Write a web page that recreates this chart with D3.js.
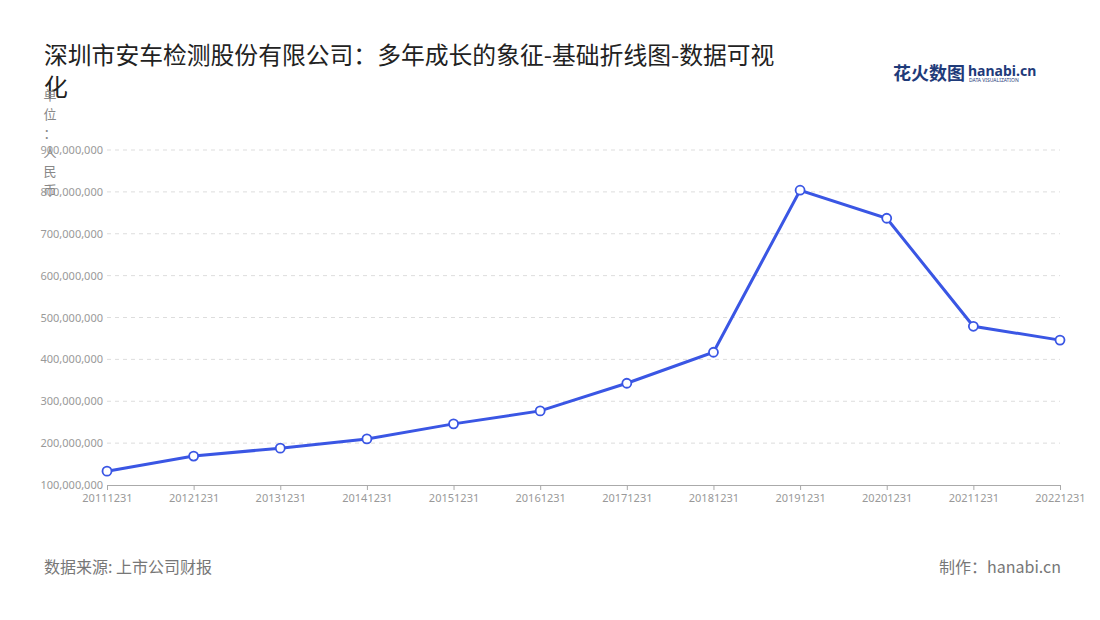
<!DOCTYPE html>
<html><head><meta charset="utf-8">
<script src="https://cdn.jsdelivr.net/npm/d3@7/dist/d3.min.js"></script>
<style>body{margin:0;background:#fff;font-family:"Noto Sans CJK SC","Noto Sans",sans-serif}</style>
</head><body><svg id="c" width="1100" height="620"></svg>
<script>
const categories=["20111231","20121231","20131231","20141231","20151231","20161231","20171231","20181231","20191231","20201231","20211231","20221231"];
const values=[133000000,169000000,188000000,210000000,246000000,277000000,343000000,417000000,804000000,737000000,479000000,446000000];
const yTicks=[100000000,200000000,300000000,400000000,500000000,600000000,700000000,800000000,900000000];
const svg=d3.select("#c");
const f="Noto Sans CJK SC";
svg.append("text").attr("x",44).attr("y",64).attr("font-size",23.8).attr("font-family",f).attr("fill","#222").text("深圳市安车检测股份有限公司：多年成长的象征-基础折线图-数据可视");
svg.append("text").attr("x",44).attr("y",96).attr("font-size",23.8).attr("font-family",f).attr("fill","#222").text("化");
const lg=svg.append("g");
lg.append("text").attr("x",893).attr("y",80).attr("font-size",18).attr("font-weight","bold").attr("font-family",f).attr("fill","#1f3b7a").text("花火数图");
lg.append("text").attr("x",968).attr("y",76).attr("font-size",14).attr("font-weight","bold").attr("font-family","Noto Sans").attr("fill","#1f3b7a").text("hanabi.cn");
lg.append("text").attr("x",969).attr("y",82).attr("font-size",5).attr("font-family","Noto Sans").attr("fill","#1f3b7a").text("DATA VISUALIZATION");
const x=d3.scalePoint().domain(categories).range([107,1060]);
const y=d3.scaleLinear().domain([100000000,900000000]).range([485,150]);
const g=svg.append("g");
g.selectAll("line.grid").data(yTicks.slice(1)).join("line").attr("x1",107).attr("x2",1060).attr("y1",d=>y(d)).attr("y2",d=>y(d)).attr("stroke","#ddd").attr("stroke-dasharray","4,4");
const ya=g.append("g").attr("transform","translate(107,0)").call(d3.axisLeft(y).tickValues(yTicks).tickFormat(d3.format(",")).tickSize(0).tickPadding(4));
ya.select(".domain").remove();
ya.selectAll("text").attr("fill","#999").attr("font-size",11).attr("font-family","Noto Sans");
const xa=g.append("g").attr("transform","translate(0,485)").call(d3.axisBottom(x).tickSize(5).tickPadding(4));
xa.select(".domain").attr("stroke","#aaa");
xa.selectAll("line").attr("stroke","#aaa");
xa.selectAll("text").attr("fill","#999").attr("font-size",11).attr("font-family","Noto Sans");
"单位：人民币".split("").forEach((c,i)=>svg.append("text").attr("x",50).attr("y",100+i*19).attr("text-anchor","middle").attr("font-size",13).attr("font-family",f).attr("fill","#888").text(c));
const line=d3.line().x((d,i)=>x(categories[i])).y(d=>y(d));
g.append("path").datum(values).attr("d",line).attr("fill","none").attr("stroke","#3a56e4").attr("stroke-width",3);
g.selectAll("circle").data(values).join("circle").attr("cx",(d,i)=>x(categories[i])).attr("cy",d=>y(d)).attr("r",4.5).attr("fill","#fff").attr("stroke","#3a56e4").attr("stroke-width",1.8);
svg.append("text").attr("x",44).attr("y",573).attr("font-size",16).attr("font-family",f).attr("fill","#777").text("数据来源: 上市公司财报");
svg.append("text").attr("x",1061).attr("y",573).attr("text-anchor","end").attr("font-size",16).attr("font-family",f).attr("fill","#777").text("制作：hanabi.cn");
</script></body></html>
